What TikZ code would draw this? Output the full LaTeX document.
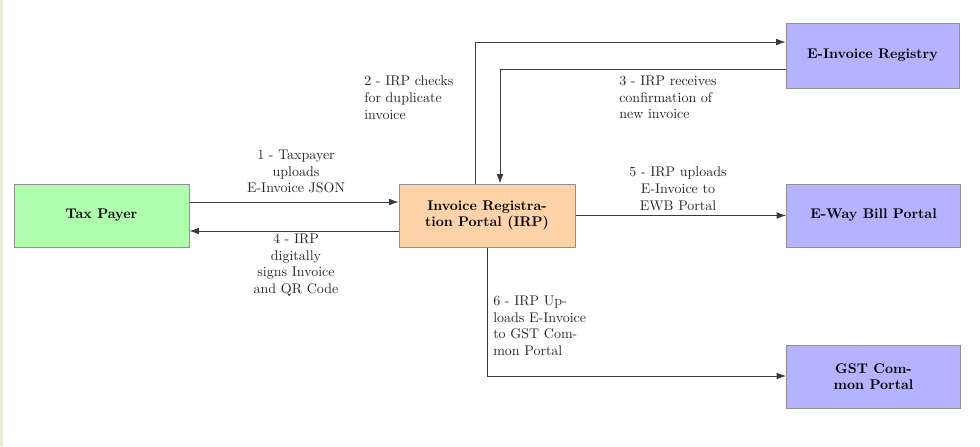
\documentclass[tikz,border=0pt]{standalone}
\usetikzlibrary{arrows.meta,calc}
\definecolor{tpgreen}{HTML}{B0FFAE}
\definecolor{irporange}{HTML}{FFD3A8}
\definecolor{portalblue}{HTML}{B3B3FF}
\definecolor{boxedge}{HTML}{909090}
\definecolor{linecol}{HTML}{3A3A3A}
\definecolor{stripcol}{HTML}{E6EDD8}
\tikzset{
  boxnode/.style={draw=boxedge, line width=0.75pt, align=center, inner sep=2pt,
    font=\fontsize{10.5}{12.4}\selectfont\bfseries},
  flow/.style={draw=linecol, line width=0.6pt, -{Latex[length=7pt,width=5pt]}},
  lbl/.style={inner sep=0pt, font=\fontsize{10.5}{12.4}\selectfont, text=black!85}
}
\begin{document}
\begin{tikzpicture}[x=0.75pt,y=-0.75pt]
\useasboundingbox (0,0) rectangle (980,446);
\fill[stripcol] (0,0) rectangle (3,446);
% nodes
\node[boxnode, fill=tpgreen, minimum width=131.25pt, minimum height=47.25pt] (tp) at (101.5,215.5) {Tax Payer};
\node[boxnode, fill=irporange, minimum width=132pt, minimum height=47.25pt] (irp) at (487,215.5) {Invoice Registra-\\tion Portal (IRP)};
\node[boxnode, fill=portalblue, minimum width=129.75pt, minimum height=48.75pt] (eir) at (872.5,55.5) {E-Invoice Registry};
\node[boxnode, fill=portalblue, minimum width=130.5pt, minimum height=47.25pt] (ewb) at (873.5,215.5) {E-Way Bill Portal};
\node[boxnode, fill=portalblue, minimum width=130.5pt, minimum height=47.25pt] (gst) at (873.5,376.5) {GST Com-\\mon Portal};
% connector helper coordinates
\coordinate (c2) at (475,42);
\coordinate (c3) at (500,69);
\coordinate (c6) at (487,376);
% 1
\draw[flow] (tp.east |- 0,202) -- (irp.west |- 0,202);
% 4
\draw[flow] (irp.west |- 0,231) -- (tp.east |- 0,231);
% 2
\draw[flow] (irp.north -| c2) -- (c2) -- (eir.west |- c2);
% 3
\draw[flow] (eir.west |- c3) -- (c3) -- (irp.north -| c3);
% 5
\draw[flow] (irp.east) -- (ewb.west);
% 6
\draw[flow] (irp.south) -- (c6) -- (gst.west |- c6);
% labels
\node[lbl, anchor=north, align=center] (l1) at (296,150) {1 - Taxpayer\\uploads\\E-Invoice JSON};
\node[lbl, anchor=north west, align=left] (l2) at (364,76) {2 - IRP checks\\for duplicate\\invoice};
\node[lbl, anchor=north west, align=left] (l3) at (619,76) {3 - IRP receives\\confirmation of\\new invoice};
\node[lbl, anchor=north, align=center] (l4) at (296,234) {4 - IRP\\digitally\\signs Invoice\\and QR Code};
\node[lbl, anchor=north, align=center] (l5) at (678,167) {5 - IRP uploads\\E-Invoice to\\EWB Portal};
\node[lbl, anchor=north west, align=left] (l6) at (493,296) {6 - IRP Up-\\loads E-Invoice\\to GST Com-\\mon Portal};
\end{tikzpicture}
\end{document}
